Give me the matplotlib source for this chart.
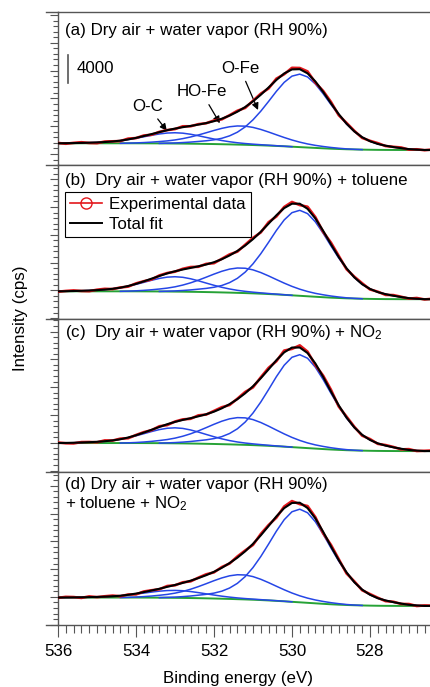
import numpy as np
import matplotlib
matplotlib.use('Agg')
import matplotlib.pyplot as plt
from matplotlib.lines import Line2D
from matplotlib.ticker import MultipleLocator

plt.rcParams['font.family'] = ['Liberation Sans', 'DejaVu Sans']
plt.rcParams['mathtext.fontset'] = 'custom'
plt.rcParams['mathtext.rm'] = 'Liberation Sans'
plt.rcParams['mathtext.it'] = 'Liberation Sans:italic'
plt.rcParams['font.size'] = 12.2

# binding energy grid (eV)
energy = [536.0, 535.8, 535.6, 535.4, 535.2, 535.0, 534.8, 534.6, 534.4, 534.2,
          534.0, 533.8, 533.6, 533.4, 533.2, 533.0, 532.8, 532.6, 532.4, 532.2,
          532.0, 531.8, 531.6, 531.4, 531.2, 531.0, 530.8, 530.6, 530.4, 530.2,
          530.0, 529.8, 529.6, 529.4, 529.2, 529.0, 528.8, 528.6, 528.4, 528.2,
          528.0, 527.8, 527.6, 527.4, 527.2, 527.0, 526.8, 526.6, 526.4]

# Shirley backgrounds (cps)
bg_a = [9540, 9540, 9540, 9540, 9540, 9540, 9540, 9540, 9540, 9540, 9540,
        9535, 9530, 9525, 9516, 9506, 9497, 9482, 9468, 9448, 9429, 9405, 9381,
        9352, 9323, 9289, 9251, 9207, 9159, 9106, 9048, 8990, 8932, 8874, 8816,
        8763, 8720, 8681, 8652, 8628, 8609, 8594, 8585, 8580,
        8575, 8575, 8575, 8575, 8575]
bg_b = [7860, 7860, 7860, 7860, 7860, 7860, 7860, 7860, 7860, 7860, 7860,
        7854, 7849, 7843, 7832, 7820, 7809, 7792, 7775, 7753, 7730, 7702, 7674,
        7640, 7606, 7566, 7521, 7470, 7414, 7352, 7284, 7216, 7148, 7080, 7013,
        6950, 6900, 6854, 6820, 6792, 6770, 6753, 6741, 6736,
        6730, 6730, 6730, 6730, 6730]
bg_c = [7960, 7960, 7960, 7960, 7960, 7960, 7960, 7960, 7960, 7960, 7960,
        7954, 7948, 7943, 7931, 7920, 7908, 7891, 7873, 7850, 7827, 7798, 7769,
        7735, 7700, 7660, 7614, 7561, 7504, 7440, 7371, 7302, 7232, 7163, 7094,
        7030, 6978, 6932, 6897, 6869, 6845, 6828, 6817, 6811,
        6805, 6805, 6805, 6805, 6805]
bg_d = [7910, 7910, 7910, 7910, 7910, 7910, 7910, 7910, 7910, 7910, 7910,
        7904, 7898, 7892, 7880, 7868, 7856, 7838, 7820, 7796, 7771, 7741, 7711,
        7675, 7639, 7597, 7549, 7494, 7434, 7368, 7295, 7223, 7151, 7079, 7006,
        6940, 6886, 6838, 6801, 6771, 6747, 6729, 6717, 6711,
        6705, 6705, 6705, 6705, 6705]

# O-Fe component (cps above background)
ofe_a = [0, 0, 0, 0, 0, 0, 0, 0, 0, 0, 0, 0, 0, 0,
         42, 84, 147, 231, 336, 452, 609, 851, 1229, 1785, 2573, 3623, 4904, 6353, 7854, 9198, 10154,
         10500,
         10154, 9198, 7854, 6353, 4904, 3623, 2573, 1785, 1229, 851, 609, 420, 263, 126, 53, 0, 0]
ofe_b = [0, 0, 0, 0, 0, 0, 0, 0, 0, 0, 0, 0, 0, 0,
         49, 98, 172, 271, 394, 529, 713, 996, 1439, 2091, 3014, 4244, 5744, 7442, 9200, 10775, 11894,
         12300,
         11894, 10775, 9200, 7442, 5744, 4244, 3014, 2091, 1439, 996, 713, 492, 308, 148, 62, 0, 0]
ofe_c = [0, 0, 0, 0, 0, 0, 0, 0, 0, 0, 0, 0, 0, 0,
         53, 107, 187, 294, 428, 575, 775, 1083, 1564, 2273, 3276, 4613, 6244, 8089, 10001, 11712, 12929,
         13370,
         12929, 11712, 10001, 8089, 6244, 4613, 3276, 2273, 1564, 1083, 775, 535, 334, 160, 67, 0, 0]
ofe_d = [0, 0, 0, 0, 0, 0, 0, 0, 0, 0, 0, 0, 0, 0,
         54, 107, 188, 295, 429, 576, 777, 1085, 1568, 2278, 3283, 4623, 6258, 8107, 10023, 11738, 12958,
         13400,
         12958, 11738, 10023, 8107, 6258, 4623, 3283, 2278, 1568, 1085, 777, 536, 335, 161, 67, 0, 0]

# HO-Fe component
hofe_a = [0, 0, 0, 0, 0, 0, 0, 0, 0,
          22, 54, 108, 176, 262, 367, 515, 714, 966, 1268, 1606, 1956, 2281, 2538, 2681,
          2681, 2538, 2281, 1956, 1606, 1268, 966, 714, 515, 367, 262, 176, 108, 54, 22,
          0, 0, 0, 0, 0, 0, 0, 0, 0, 0]
hofe_b = [0, 0, 0, 0, 0, 0, 0, 0, 0,
          29, 72, 144, 234, 349, 490, 687, 952, 1288, 1691, 2141, 2607, 3041, 3384, 3575,
          3575, 3384, 3041, 2607, 2141, 1691, 1288, 952, 687, 490, 349, 234, 144, 72, 29,
          0, 0, 0, 0, 0, 0, 0, 0, 0, 0]
hofe_c = [0, 0, 0, 0, 0, 0, 0, 0, 0,
          31, 78, 156, 254, 379, 532, 746, 1034, 1399, 1837, 2326, 2832, 3303, 3675, 3883,
          3883, 3675, 3303, 2832, 2326, 1837, 1399, 1034, 746, 532, 379, 254, 156, 78, 31,
          0, 0, 0, 0, 0, 0, 0, 0, 0, 0]
hofe_d = [0, 0, 0, 0, 0, 0, 0, 0, 0,
          28, 71, 142, 230, 343, 481, 676, 936, 1267, 1663, 2106, 2564, 2990, 3327, 3516,
          3516, 3327, 2990, 2564, 2106, 1663, 1267, 936, 676, 481, 343, 230, 142, 71, 28,
          0, 0, 0, 0, 0, 0, 0, 0, 0, 0]

# O-C component
oc_a = [0, 12, 31, 54, 85, 126, 181, 264, 380, 535, 724, 938, 1159, 1358, 1499,
        1550,
        1499, 1358, 1159, 938, 724, 535, 380, 264, 181, 126, 85, 54, 31, 12,
        0, 0, 0, 0, 0, 0, 0, 0, 0, 0, 0, 0, 0, 0, 0, 0, 0, 0, 0]
oc_b = [0, 17, 43, 75, 118, 173, 250, 364, 524, 738, 999, 1295, 1601, 1875, 2069,
        2140,
        2069, 1875, 1601, 1295, 999, 738, 524, 364, 250, 173, 118, 75, 43, 17,
        0, 0, 0, 0, 0, 0, 0, 0, 0, 0, 0, 0, 0, 0, 0, 0, 0, 0, 0]
oc_c = [0, 18, 45, 78, 123, 181, 261, 379, 546, 769, 1041, 1349, 1668, 1953, 2156,
        2230,
        2156, 1953, 1668, 1349, 1041, 769, 546, 379, 261, 181, 123, 78, 45, 18,
        0, 0, 0, 0, 0, 0, 0, 0, 0, 0, 0, 0, 0, 0, 0, 0, 0, 0, 0]
oc_d = [0, 9, 21, 37, 59, 87, 125, 182, 262, 369, 500, 647, 800, 937, 1035,
        1070,
        1035, 937, 800, 647, 500, 369, 262, 182, 125, 87, 59, 37, 21, 9,
        0, 0, 0, 0, 0, 0, 0, 0, 0, 0, 0, 0, 0, 0, 0, 0, 0, 0, 0]

# experimental data minus total fit (cps)
resid_a = [50, -80, 30, 100, -40, -110, 70, 20, -60, 120, -30, 80, -100, 40, 10, -70, 130,
           -50, 60, -20, 110, -90, 50, 140, -130, 80, 160, -150, 190, -110, 230, 170, 280,
           -180, 140, 200, -160, 110, 80, -100, 60, 120, -50, 30, 100, -80, 50, -30, 70]
resid_b = [-60, 40, 90, -30, -100, 60, 110, -40, 30, -90, 70, 20, -120, 80, 50, -60, 100,
           130, -70, 90, -140, 60, 150, -100, 120, 180, -90, 210, -170, 160, 250, -200, 300,
           190, -150, 240, 170, -130, 100, 140, -80, 60, -110, 90, 40, -70, 110, -40, 60]
resid_c = [80, -50, -100, 60, 30, -80, 120, -20, 90, -110, 40, 70, -60, 100, -130, 50, 80,
           -90, 140, -40, 110, 160, -120, 70, 190, -160, 130, 220, -140, 260, -190, 310, 200,
           -230, 180, 260, -170, 140, 90, -120, 130, -70, 80, 50, -90, 120, -60, 40, 90]
resid_d = [-40, 90, 50, -90, 110, -30, 60, 100, -80, 40, -120, 90, 30, -70, 120, -50, 90,
           -100, 60, 130, -80, 110, -60, 170, 120, -150, 200, 140, -180, 230, 270, -210, 290,
           180, -220, 210, 150, -160, 120, -90, 100, 70, -100, 60, -50, 110, -80, 70, 40]

ylims = [(6380, 28430), (3950, 26000), (3830, 25880), (3960, 26010)]

RED = '#e3161b'
BLUE = '#2546e6'
GREEN = '#26a236'
AX = '#555555'

W, H = 430, 687
fig = plt.figure(figsize=(W / 100, H / 100), dpi=100)

left_px, top_px, ph = 58, 12, 153.25
panels = [(bg_a, [ofe_a, hofe_a, oc_a], resid_a),
          (bg_b, [ofe_b, hofe_b, oc_b], resid_b),
          (bg_c, [ofe_c, hofe_c, oc_c], resid_c),
          (bg_d, [ofe_d, hofe_d, oc_d], resid_d)]

e = np.array(energy)
axes = []
for i, (bg, comps, resid) in enumerate(panels):
    bottom_px = top_px + ph * (i + 1)
    ax = fig.add_axes([left_px / W, 1 - bottom_px / H, (W - left_px) / W, ph / H])
    axes.append(ax)
    bg = np.array(bg, dtype=float)
    fit = bg.copy()
    for c in comps:
        fit += np.array(c)
    expdata = fit + np.array(resid)

    ax.plot(e, bg, color=GREEN, lw=1.4, zorder=2)
    for c in comps:
        c = np.array(c)
        on = c > 0
        on = on | np.roll(on, 1) | np.roll(on, -1)
        ax.plot(e[on], (bg + c)[on], color=BLUE, lw=1.1, zorder=3)
    ax.plot(e, expdata, color=RED, lw=1.9, zorder=4)
    ax.plot(e, fit, color='black', lw=1.5, zorder=5)

    ax.set_xlim(536, 526.46)
    ax.set_ylim(*ylims[i])
    ax.spines['right'].set_visible(False)
    for s in ['left', 'top', 'bottom']:
        ax.spines[s].set_color(AX)
        ax.spines[s].set_linewidth(1.0)
    ax.yaxis.set_major_locator(MultipleLocator(4000))
    ax.yaxis.set_minor_locator(MultipleLocator(800))
    ax.tick_params(axis='y', which='major', direction='out', length=5.8, width=0.8,
                   color=AX, labelleft=False)
    ax.tick_params(axis='y', which='minor', direction='out', length=3.6, width=0.8, color=AX)
    if i < 3:
        ax.tick_params(axis='x', which='both', bottom=False, labelbottom=False)
    else:
        ax.xaxis.set_major_locator(MultipleLocator(2))
        ax.xaxis.set_minor_locator(MultipleLocator(0.2))
        ax.tick_params(axis='x', which='major', direction='out', length=8.6, width=0.8,
                       color=AX, labelsize=12.2, pad=5)
        ax.tick_params(axis='x', which='minor', direction='out', length=5.8, width=0.8, color=AX)

# separators stick out to the left of the y axis
for i in range(5):
    y = 1 - (top_px + ph * i) / H
    fig.add_artist(Line2D([46 / W, left_px / W], [y, y], transform=fig.transFigure,
                          color=AX, lw=1.0))

tx = 7 / 372
axes[0].text(tx, 1 - 23 / ph, '(a) Dry air + water vapor (RH 90%)', transform=axes[0].transAxes,
             va='baseline')
axes[1].text(tx, 1 - 19.75 / ph, '(b)  Dry air + water vapor (RH 90%) + toluene',
             transform=axes[1].transAxes, va='baseline')
axes[2].text(tx, 1 - 18.2 / ph, '(c)  Dry air + water vapor (RH 90%) + NO$_2$',
             transform=axes[2].transAxes, va='baseline')
axes[3].text(tx, 1 - 17.6 / ph, '(d) Dry air + water vapor (RH 90%)',
             transform=axes[3].transAxes, va='baseline')
axes[3].text(tx, 1 - 36.6 / ph, '+ toluene + NO$_2$',
             transform=axes[3].transAxes, va='baseline')

# scale bar and peak labels in panel (a)
axa = axes[0]
axa.plot([535.74, 535.74], [18250, 22250], color=AX, lw=1.2)
axa.text(535.51, 20230, '4000', va='center', ha='left')
arrow = dict(arrowstyle='-|>', color='black', lw=0.9, shrinkA=2, shrinkB=0, mutation_scale=10)
axa.annotate('O-C', xy=(533.21, 11350), xytext=(533.69, 14835), ha='center', va='center',
             arrowprops=arrow)
axa.annotate('HO-Fe', xy=(531.85, 12420), xytext=(532.32, 16920), ha='center', va='center',
             arrowprops=arrow)
axa.annotate('O-Fe', xy=(530.87, 14330), xytext=(531.33, 20300), ha='center', va='center',
             arrowprops=arrow)

# legend in panel (b)
handles = [Line2D([], [], color=RED, lw=1.2, marker='o', markersize=8, markerfacecolor='none',
                  markeredgecolor=RED, markeredgewidth=1.0),
           Line2D([], [], color='black', lw=1.4)]
leg = axes[1].legend(handles, ['Experimental data', 'Total fit'], loc='upper left',
                     bbox_to_anchor=(7 / 372, 1 - 27 / ph), borderaxespad=0, fancybox=False,
                     framealpha=1, edgecolor='black', handlelength=1.9, handletextpad=0.4,
                     borderpad=0.3, labelspacing=0.25, fontsize=12.2)
leg.get_frame().set_linewidth(0.8)

fig.text(21 / W, 1 - 318.5 / H, 'Intensity (cps)', rotation=90, ha='center', va='center')
fig.text(238 / W, 1 - 679 / H, 'Binding energy (eV)', ha='center', va='center')

fig.savefig('out.png', dpi=100)
